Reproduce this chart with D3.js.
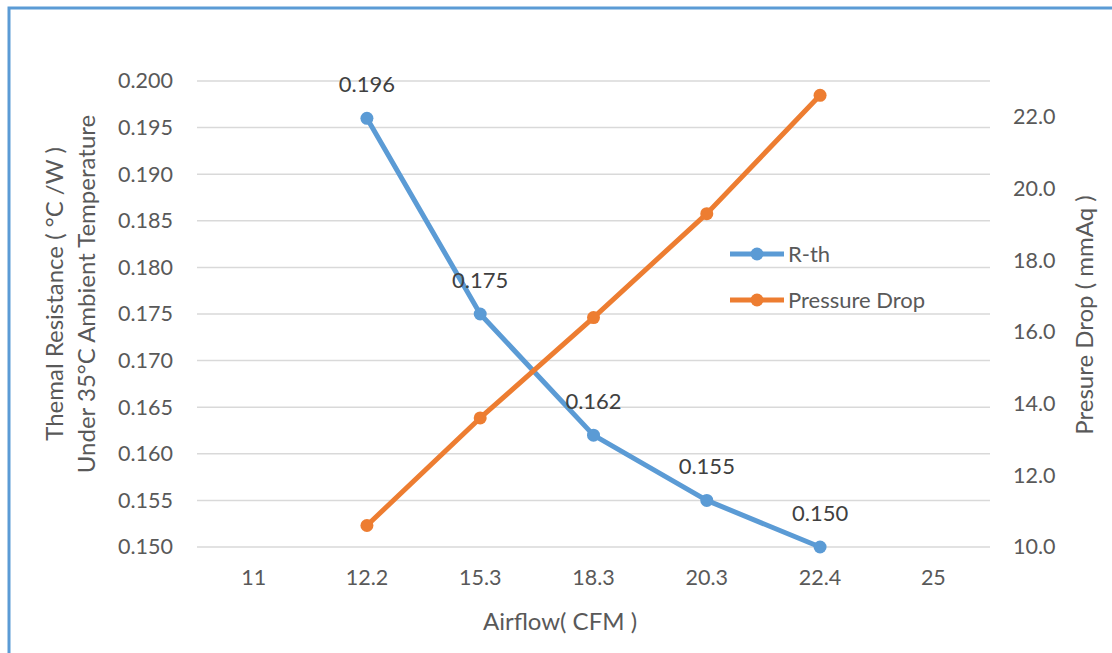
<!DOCTYPE html>
<html>
<head>
<meta charset="utf-8">
<script src="https://cdn.jsdelivr.net/npm/d3@7"></script>
<style>
  body { margin: 0; background: #fff; }
  text { font-family: Lato, "Open Sans", sans-serif; fill: #595959; }
</style>
</head>
<body>
<svg id="chart" width="1112" height="653"></svg>
<script>
const airflow = ["11", "12.2", "15.3", "18.3", "20.3", "22.4", "25"];
const rthX = ["12.2", "15.3", "18.3", "20.3", "22.4"];
const rth = [0.196, 0.175, 0.162, 0.155, 0.150];
const pressure = [10.6, 13.6, 16.4, 19.3, 22.6];
const leftTicks = [0.150, 0.155, 0.160, 0.165, 0.170, 0.175, 0.180, 0.185, 0.190, 0.195, 0.200];
const rightTicks = [10, 12, 14, 16, 18, 20, 22];

const svg = d3.select('#chart');
const width = 1112, height = 653;
const margin = { top: 81, right: 122, bottom: 106, left: 197 };
const blue = '#5B9BD5', orange = '#ED7D31';

// outer frame (runs off the right and bottom edges)
svg.append('rect')
    .attr('x', 9).attr('y', 8)
    .attr('width', 1200).attr('height', 800)
    .attr('fill', '#fff')
    .attr('stroke', blue)
    .attr('stroke-width', 3);

const x = d3.scaleBand().domain(airflow).range([margin.left, width - margin.right]);
const yL = d3.scaleLinear().domain([0.150, 0.200]).range([height - margin.bottom, margin.top]);
const yR = d3.scaleLinear().domain([10, 23]).range([height - margin.bottom, margin.top]);
const cx = d => x(d) + x.bandwidth() / 2;

// gridlines
svg.append('g')
    .selectAll('line')
    .data(leftTicks)
    .join('line')
    .attr('x1', margin.left).attr('x2', width - margin.right)
    .attr('y1', d => yL(d)).attr('y2', d => yL(d))
    .attr('stroke', '#D9D9D9')
    .attr('stroke-width', 1.5);

// left axis
const gl = svg.append('g')
    .attr('transform', `translate(${margin.left - 14},0)`)
    .call(d3.axisLeft(yL).tickValues(leftTicks).tickFormat(d3.format('.3f')).tickSize(0).tickPadding(10));
gl.select('.domain').remove();
gl.selectAll('text').style('font-size', '21.5px');

// right axis
const gr = svg.append('g')
    .attr('transform', `translate(${width - margin.right + 13},0)`)
    .call(d3.axisRight(yR).tickValues(rightTicks).tickFormat(d3.format('.1f')).tickSize(0).tickPadding(10));
gr.select('.domain').remove();
gr.selectAll('text').style('font-size', '21.5px');

// bottom axis
const gb = svg.append('g')
    .attr('transform', `translate(0,${height - margin.bottom + 13})`)
    .call(d3.axisBottom(x).tickSize(0).tickPadding(10));
gb.select('.domain').remove();
gb.selectAll('text').style('font-size', '21.5px');

// axis titles
svg.append('text')
    .attr('x', 560).attr('y', 630)
    .attr('text-anchor', 'middle')
    .style('font-size', '24px')
    .text('Airflow( CFM )');

const lt = svg.append('text')
    .attr('transform', 'translate(63,294) rotate(-90)')
    .attr('text-anchor', 'middle')
    .style('font-size', '24px');
lt.append('tspan').attr('x', 0).attr('dy', 0).text('Themal Resistance ( °C /W )');
lt.append('tspan').attr('x', 0).attr('dy', 32).text('Under 35°C Ambient Temperature');

svg.append('text')
    .attr('transform', 'translate(1093,315) rotate(-90)')
    .attr('text-anchor', 'middle')
    .style('font-size', '24px')
    .text('Presure Drop ( mmAq )');

// series
const rthData = rthX.map((k, i) => ({ k, v: rth[i] }));
const prData = rthX.map((k, i) => ({ k, v: pressure[i] }));

svg.append('path')
    .datum(rthData)
    .attr('fill', 'none')
    .attr('stroke', blue)
    .attr('stroke-width', 5)
    .attr('stroke-linejoin', 'round')
    .attr('d', d3.line().x(d => cx(d.k)).y(d => yL(d.v)));
svg.append('g').selectAll('circle')
    .data(rthData).join('circle')
    .attr('cx', d => cx(d.k)).attr('cy', d => yL(d.v))
    .attr('r', 6.5).attr('fill', blue);

svg.append('path')
    .datum(prData)
    .attr('fill', 'none')
    .attr('stroke', orange)
    .attr('stroke-width', 5)
    .attr('stroke-linejoin', 'round')
    .attr('d', d3.line().x(d => cx(d.k)).y(d => yR(d.v)));
svg.append('g').selectAll('circle')
    .data(prData).join('circle')
    .attr('cx', d => cx(d.k)).attr('cy', d => yR(d.v))
    .attr('r', 6.5).attr('fill', orange);

// data labels for R-th
svg.append('g').selectAll('text')
    .data(rthData).join('text')
    .attr('x', d => cx(d.k)).attr('y', d => yL(d.v) - 26)
    .attr('text-anchor', 'middle')
    .style('font-size', '22px')
    .style('fill', '#404040')
    .text(d => d3.format('.3f')(d.v));

// legend
const legend = [{ name: 'R-th', color: blue }, { name: 'Pressure Drop', color: orange }];
const lg = svg.append('g').selectAll('g')
    .data(legend).join('g')
    .attr('transform', (d, i) => `translate(730,${254 + i * 46})`);
lg.append('line')
    .attr('x1', 0).attr('x2', 54)
    .attr('stroke', d => d.color).attr('stroke-width', 5);
lg.append('circle')
    .attr('cx', 27).attr('r', 6.5).attr('fill', d => d.color);
lg.append('text')
    .attr('x', 58).attr('dy', '0.35em')
    .style('font-size', '22px')
    .text(d => d.name);
</script>
</body>
</html>
